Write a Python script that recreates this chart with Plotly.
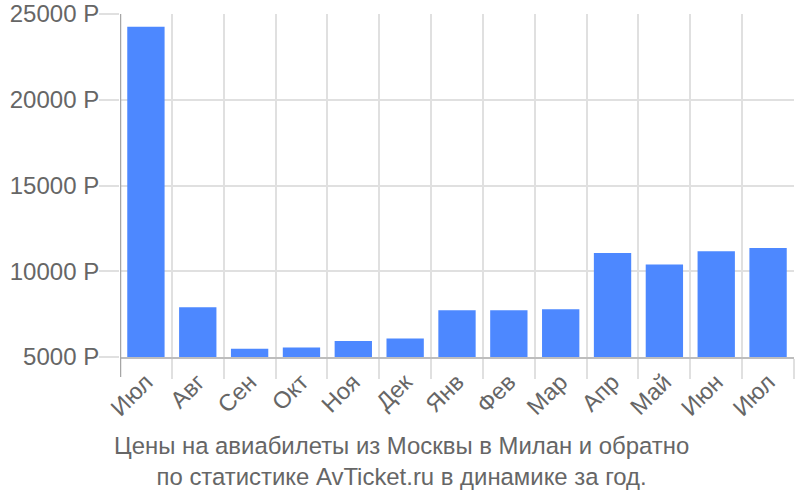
import plotly.graph_objects as go

categories = ["Июл","Авг","Сен","Окт","Ноя","Дек","Янв","Фев","Мар","Апр","Май","Июн","Июл"]
values = [24250,7900,5480,5560,5930,6080,7730,7730,7780,11060,10400,11170,11350]
tick_vals = [5000,10000,15000,20000,25000]
tick_text = ["5000 Р","10000 Р","15000 Р","20000 Р","25000 Р"]
title_lines = ["Цены на авиабилеты из Москвы в Милан и обратно","по статистике AvTicket.ru в динамике за год."]

positions = list(range(len(values)))
boundaries = [p + 0.5 for p in positions]
GRID = "#e0e0e0"

fig = go.Figure(go.Bar(x=positions, y=values, marker_color="#4d88ff", width=0.72, marker_line_width=0))
fig.update_layout(
    width=800, height=500, autosize=False, paper_bgcolor="white", plot_bgcolor="white",
    margin=dict(l=120, r=6, t=14, b=143, pad=0), showlegend=False,
    font=dict(family="Liberation Sans", size=24, color="#666666"),
    annotations=[dict(text="<br>".join(title_lines), x=0.4175, xref="paper", xanchor="center",
                      y=0, yref="paper", yanchor="top", yshift=-73, showarrow=False,
                      font=dict(size=23.9, color="#666666"))],
    shapes=[dict(type="line", xref="x", yref="paper", x0=-0.5, x1=-0.5, y0=-20/343, y1=1,
                 line=dict(color="#a6a6a6", width=2.5), layer="above")],
)
fig.update_xaxes(tickmode="array", tickvals=positions, ticktext=categories, tickangle=-45,
    tickfont=dict(size=23.5), range=[-0.5, 12.5], showgrid=False, ticks="", showline=True,
    linecolor="#bdbdbd", linewidth=2, zeroline=False, automargin=False, ticklabelstandoff=0,
    minor=dict(tickmode="array", tickvals=boundaries, showgrid=True, gridcolor=GRID, gridwidth=2,
               ticks="outside", ticklen=20, tickwidth=2, tickcolor=GRID))
fig.update_yaxes(tickmode="array", tickvals=tick_vals, ticktext=tick_text, range=[5000, 25000],
    showgrid=True, gridcolor=GRID, gridwidth=2, ticks="outside", ticklen=20, tickwidth=2, tickcolor=GRID,
    showline=False, zeroline=False, automargin=False, ticklabelstandoff=-5)
fig.write_html("out.html", config=dict(displayModeBar=False), post_script="document.body.style.margin='0';")
